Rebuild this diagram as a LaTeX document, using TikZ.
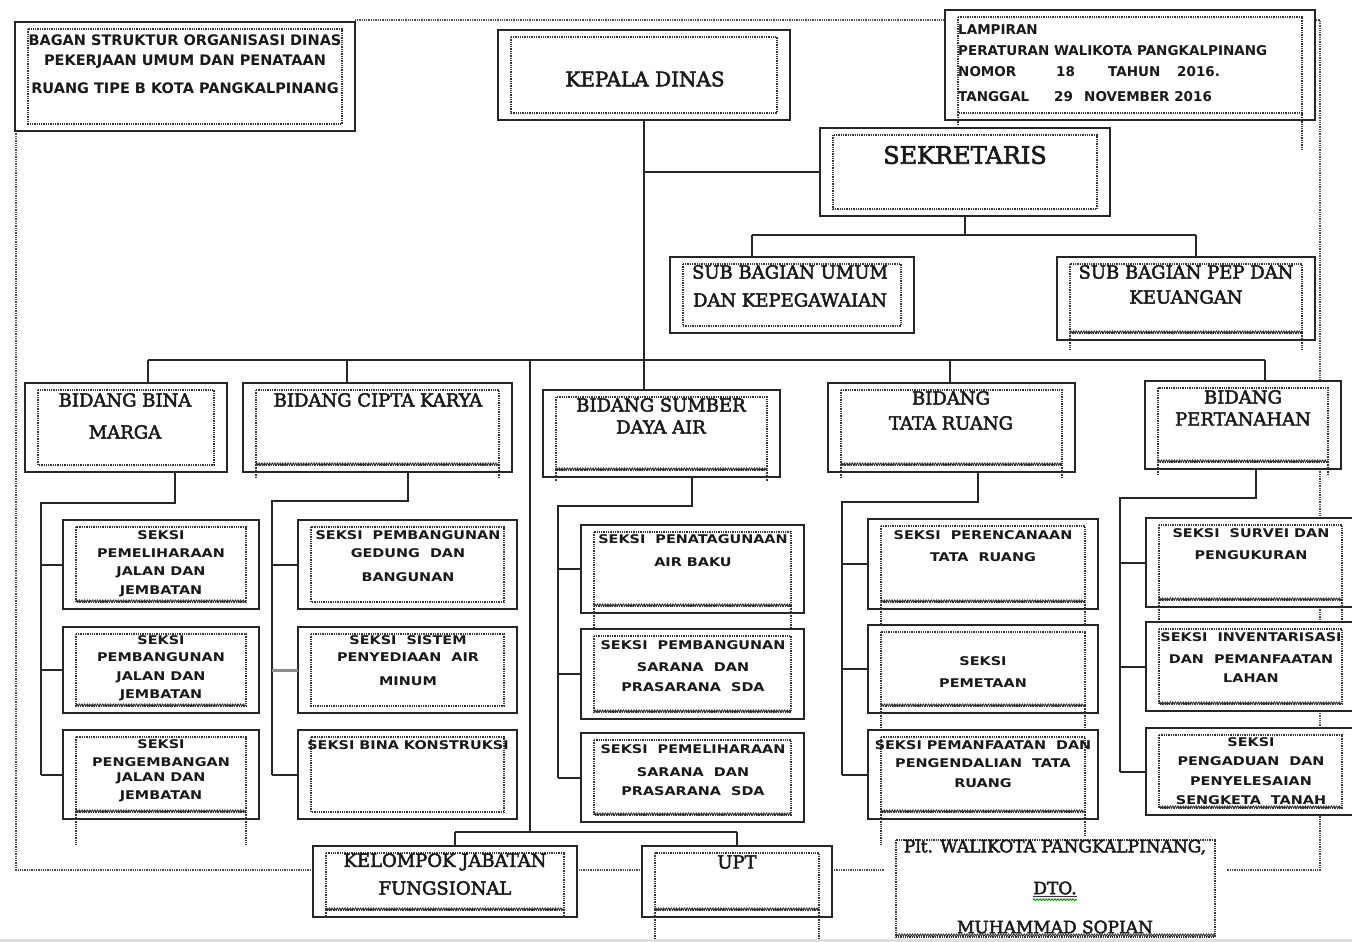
\documentclass[tikz,border=0pt]{standalone}
\usepackage{fontspec}
\usetikzlibrary{decorations.pathmorphing,calc}
\newfontfamily\serifF{DejaVu Serif}[FakeBold=2.5]
\newfontfamily\sansF{DejaVu Sans}
\newfontfamily\sekF{DejaVu Sans}[FakeStretch=1.2]
\newcommand\ob[7]{%
  \node[obox, minimum width={(#4)-(#2)}, minimum height={(#5)-(#3)}] (#1) at ({(#2+#4)/2},{(#3+#5)/2}) {};
  \draw[ibox] (#2+13,#3+7) rectangle (#4-13,#5-7);
  \ifnum#6=1 \draw[wavyline] (#2+13,#5-8) -- (#4-13,#5-8);\fi
  \ifnum#7>0 \draw[ibox] (#2+13,#5-7) -- (#2+13,#5+#7); \draw[ibox] (#4-13,#5-7) -- (#4-13,#5+#7);\fi
}
\newcommand\tl[4]{%
  \foreach \yy/\txt [count=\i] in {#4} {\node[#3] (#1-\i) at (#2,\yy) {\txt};}%
}
\begin{document}
\begin{tikzpicture}[x=1pt,y=-1pt,
  obox/.style={draw=black!85,line width=2pt,fill=white,inner sep=0pt,outer sep=0pt},
  ibox/.style={draw=black!80,line width=1.3pt,densely dotted},
  wavyline/.style={draw=black!80,line width=0.9pt,decorate,decoration={snake,amplitude=1pt,segment length=2.6pt}},
  frame/.style={draw=black!70,line width=1.3pt,densely dotted},
  conn/.style={draw=black!85,line width=2pt},
  tSer/.style={font=\serifF\fontsize{18}{20}\selectfont,inner sep=0pt,text=black!90},
  tSerL/.style={font=\serifF\fontsize{20}{24}\selectfont,inner sep=0pt,text=black!90},
  tSek/.style={font=\sekF\bfseries\fontsize{12}{14}\selectfont,inner sep=0pt,text=black!90},
  tTah/.style={font=\sansF\bfseries\fontsize{14.5}{16}\selectfont,inner sep=0pt,text=black!90},
  tLam/.style={font=\sansF\bfseries\fontsize{13.5}{15}\selectfont,inner sep=0pt,anchor=west,text=black!90},
]
\useasboundingbox (0,0) rectangle (1352,942);
\clip (0,0) rectangle (1352,942);
\fill[white] (0,0) rectangle (1352,942);
% outer dotted frame
\draw[frame] (16,131) -- (16,870) -- (1320,870) -- (1320,20) -- (355,20);
% boxes
\ob{title}{15}{22}{355}{131}{0}{0}
\ob{kepala}{498}{30}{790}{120}{0}{0}
\ob{lamp}{945}{10}{1315}{120}{0}{0}
\draw[ibox] (1302,112) -- (1302,150);
\draw[ibox] (958,112) -- (958,125);
\ob{sek}{820}{128}{1110}{216}{0}{0}
\ob{subumum}{670}{257}{914}{333}{0}{0}
\ob{subpep}{1057}{257}{1315}{340}{1}{10}
\ob{bina}{25}{383}{227}{472}{0}{0}
\ob{cipta}{243}{383}{512}{472}{1}{6}
\ob{sda}{543}{390}{780}{477}{1}{4}
\ob{tata}{828}{383}{1075}{472}{1}{6}
\ob{pert}{1145}{381}{1341}{469}{1}{6}
\ob{a1}{63}{520}{259}{609}{1}{0}
\ob{a2}{63}{627}{259}{713}{1}{0}
\ob{a3}{63}{730}{259}{819}{1}{26}
\ob{b1}{298}{520}{517}{609}{0}{0}
\ob{b2}{298}{627}{517}{713}{0}{0}
\ob{b3}{298}{730}{517}{819}{0}{0}
\ob{c1}{581}{525}{804}{613}{1}{16}
\ob{c2}{581}{629}{804}{719}{1}{0}
\ob{c3}{581}{733}{804}{822}{1}{0}
\ob{d1}{868}{519}{1098}{609}{1}{16}
\ob{d2}{868}{625}{1098}{713}{1}{17}
\ob{d3}{868}{730}{1098}{819}{1}{26}
\ob{e1}{1146}{518}{1355}{607}{1}{15}
\ob{e2}{1146}{622}{1355}{711}{1}{0}
\ob{e3}{1146}{728}{1355}{815}{1}{0}
\ob{kelompok}{313}{846}{577}{917}{1}{2}
\ob{upt}{642}{846}{832}{917}{1}{25}
\node[fill=white,inner sep=0pt,minimum width=343,minimum height=106] (plt) at (1055.5,889) {};
\draw[ibox] (896,840) rectangle (1215,937);
\draw[wavyline] (896,935) -- (1215,935);
% connectors
\coordinate (bus) at (0,360);
\coordinate (dbina) at (148,360);
\coordinate (dcipta) at (347,360);
\coordinate (dfung) at (530,360);
\coordinate (dtata) at (950,360);
\coordinate (dpert) at (1265,360);
\draw[conn] (kepala.south) -- (kepala.south |- bus);
\draw[conn] (kepala.south |- sek.west) -- (sek.west);
\draw[conn] (dbina) -- (dpert);
\draw[conn] (dbina) -- (dbina |- bina.north);
\draw[conn] (dcipta) -- (dcipta |- cipta.north);
\draw[conn] (kepala.south |- bus) -- (kepala.south |- sda.north);
\draw[conn] (dtata) -- (dtata |- tata.north);
\draw[conn] (dpert) -- (dpert |- pert.north);
\coordinate (sbus) at (0,235);
\coordinate (dumum) at (752,235);
\coordinate (dpep) at (1196,235);
\draw[conn] (sek.south) -- (sek.south |- sbus);
\draw[conn] (dumum) -- (dpep);
\draw[conn] (dumum) -- (dumum |- subumum.north);
\draw[conn] (dpep) -- (dpep |- subpep.north);
% columns
\coordinate (k1) at (175,503); \coordinate (v1) at (41,503);
\draw[conn] (k1 |- bina.south) -- (k1) -- (v1) -- (v1 |- a3.west);
\foreach \n in {a1,a2,a3} {\draw[conn] (v1 |- \n.west) -- (\n.west);}
\coordinate (k2) at (408,501); \coordinate (v2) at (272,501);
\draw[conn] (k2 |- cipta.south) -- (k2) -- (v2) -- (v2 |- b3.west);
\draw[conn] (v2 |- b1.west) -- (b1.west);
\draw[conn,draw=black!45,line width=3pt] (v2 |- b2.west) -- (b2.west);
\draw[conn] (v2 |- b3.west) -- (b3.west);
\coordinate (k3) at (692,506); \coordinate (v3) at (558,506);
\draw[conn] (k3 |- sda.south) -- (k3) -- (v3) -- (v3 |- c3.west);
\foreach \n in {c1,c2,c3} {\draw[conn] (v3 |- \n.west) -- (\n.west);}
\coordinate (k4) at (978,502); \coordinate (v4) at (842,502);
\draw[conn] (k4 |- tata.south) -- (k4) -- (v4) -- (v4 |- d3.west);
\foreach \n in {d1,d2,d3} {\draw[conn] (v4 |- \n.west) -- (\n.west);}
\coordinate (k5) at (1256,498); \coordinate (v5) at (1120,498);
\draw[conn] (k5 |- pert.south) -- (k5) -- (v5) -- (v5 |- e3.west);
\foreach \n in {e1,e2,e3} {\draw[conn] (v5 |- \n.west) -- (\n.west);}
\coordinate (kb) at (530,832);
\coordinate (dkel) at (455,832);
\coordinate (dupt) at (737,832);
\draw[conn] (dfung) -- (kb);
\draw[conn] (dkel) -- (dupt);
\draw[conn] (dkel) -- (dkel |- kelompok.north);
\draw[conn] (dupt) -- (dupt |- upt.north);
% texts
\tl{ttitle}{185}{tTah}{40/BAGAN STRUKTUR ORGANISASI DINAS, 62/PEKERJAAN UMUM DAN PENATAAN, 88/RUANG TIPE B KOTA PANGKALPINANG}
\node[tSerL] (tkepala) at (645,79) {KEPALA DINAS};
\node[tLam] (tl1) at (958,30) {LAMPIRAN};
\node[tLam] (tl2) at (958,51) {PERATURAN WALIKOTA PANGKALPINANG};
\node[tLam] (tl3a) at (958,72) {NOMOR};
\node[tLam] (tl3b) at (1056,72) {18};
\node[tLam] (tl3c) at (1108,72) {TAHUN};
\node[tLam] (tl3d) at (1177,72) {2016.};
\node[tLam] (tl4a) at (958,97) {TANGGAL};
\node[tLam] (tl4b) at (1054,97) {29};
\node[tLam] (tl4c) at (1084,97) {NOVEMBER 2016};
\node[tSerL,font=\serifF\fontsize{24}{28}\selectfont] (tsek) at (965,155) {SEKRETARIS};
\tl{tumum}{790}{tSer}{272/SUB BAGIAN UMUM, 300/DAN KEPEGAWAIAN}
\tl{tpep}{1186}{tSer}{272/SUB BAGIAN PEP DAN, 297/KEUANGAN}
\tl{tbina}{125}{tSer}{400/BIDANG BINA, 432/MARGA}
\tl{tcipta}{378}{tSer}{400/BIDANG CIPTA KARYA}
\tl{tsda}{661}{tSer}{405/BIDANG SUMBER, 427/DAYA AIR}
\tl{ttata}{951}{tSer}{398/BIDANG, 423/TATA RUANG}
\tl{tpert}{1243}{tSer}{397/BIDANG, 419/PERTANAHAN}
\tl{ta1}{161}{tSek}{535/SEKSI, 553/PEMELIHARAAN, 572/JALAN DAN, 591/JEMBATAN}
\tl{ta2}{161}{tSek}{640/SEKSI, 657/PEMBANGUNAN, 677/JALAN DAN, 695/JEMBATAN}
\tl{ta3}{161}{tSek}{744/SEKSI, 762/PENGEMBANGAN, 778/JALAN DAN, 796/JEMBATAN}
\tl{tb1}{408}{tSek}{535/SEKSI\ \ PEMBANGUNAN, 553/GEDUNG\ \ DAN, 577/BANGUNAN}
\tl{tb2}{408}{tSek}{640/SEKSI\ \ SISTEM, 657/PENYEDIAAN\ \ AIR, 681/MINUM}
\tl{tb3}{408}{tSek}{745/SEKSI BINA KONSTRUKSI}
\tl{tc1}{693}{tSek}{539/SEKSI\ \ PENATAGUNAAN, 562/AIR BAKU}
\tl{tc2}{693}{tSek}{645/SEKSI\ \ PEMBANGUNAN, 667/SARANA\ \ DAN, 687/PRASARANA\ \ SDA}
\tl{tc3}{693}{tSek}{749/SEKSI\ \ PEMELIHARAAN, 772/SARANA\ \ DAN, 791/PRASARANA\ \ SDA}
\tl{td1}{983}{tSek}{535/SEKSI\ \ PERENCANAAN, 557/TATA\ \ RUANG}
\tl{td2}{983}{tSek}{661/SEKSI, 683/PEMETAAN}
\tl{td3}{983}{tSek}{745/SEKSI PEMANFAATAN\ \ DAN, 763/PENGENDALIAN\ \ TATA, 783/RUANG}
\tl{te1}{1251}{tSek}{533/SEKSI\ \ SURVEI DAN, 555/PENGUKURAN}
\tl{te2}{1251}{tSek}{637/SEKSI\ \ INVENTARISASI, 659/DAN\ \ PEMANFAATAN, 678/LAHAN}
\tl{te3}{1251}{tSek}{742/SEKSI, 761/PENGADUAN\ \ DAN, 781/PENYELESAIAN, 800/SENGKETA\ \ TANAH}
\tl{tkel}{445}{tSer}{862/KELOMPOK JABATAN, 888/FUNGSIONAL}
\node[tSer] (tupt) at (737,862) {UPT};
\node[tSer,font=\serifF\fontsize{17}{20}\selectfont] (tplt1) at (1055,847) {Plt. WALIKOTA PANGKALPINANG,};
\node[tSer,font=\serifF\fontsize{17}{20}\selectfont] (tplt2) at (1055,888) {DTO.};
\node[tSer,font=\serifF\fontsize{17}{20}\selectfont] (tplt3) at (1055,927) {MUHAMMAD SOPIAN};
\draw[black!80,line width=0.8pt] ($(tplt2.south west)+(0,2)$) -- ($(tplt2.south east)+(0,2)$);
\draw[green!55!black,line width=0.8pt,decorate,decoration={snake,amplitude=1pt,segment length=3pt}] ($(tplt2.south west)+(0,5)$) -- ($(tplt2.south east)+(0,5)$);
\fill[gray!25] (0,939) rectangle (1352,942);
\end{tikzpicture}
\end{document}
